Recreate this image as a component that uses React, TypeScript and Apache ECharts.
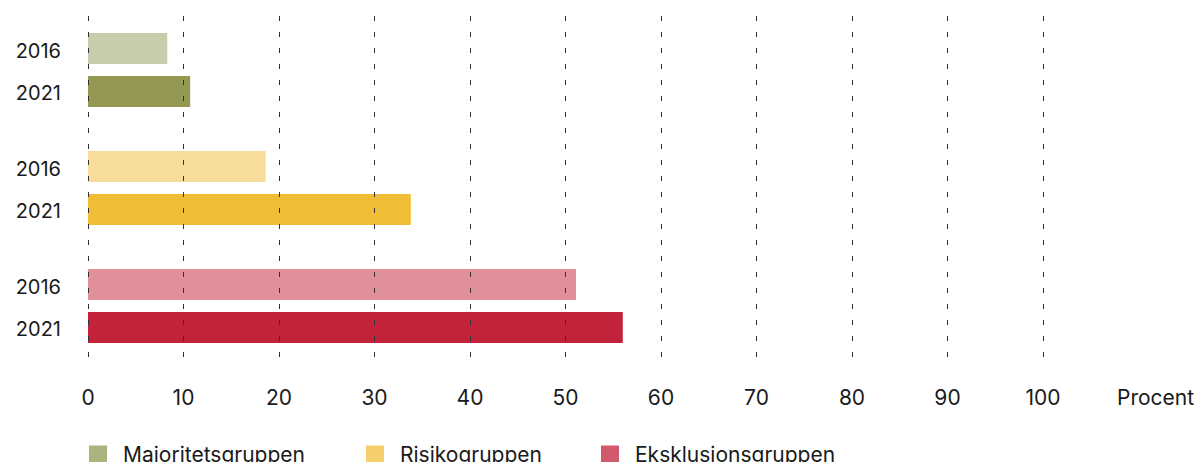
import React, { useEffect, useRef } from "react";
import * as echarts from "echarts";

const groups = ["Majoritetsgruppen", "Risikogruppen", "Eksklusionsgruppen"];
const years = ["2016", "2021"];
const values2016 = [8.3, 18.6, 51.1];
const values2021 = [10.7, 33.8, 56.0];
const colors2016 = ["#c8cdab", "#f6dd9b", "#e1909c"];
const colors2021 = ["#939953", "#f0bd37", "#c3223b"];
const legendColors = ["#abb37e", "#f4cf6b", "#d15a6d"];
const xTicks = [0, 10, 20, 30, 40, 50, 60, 70, 80, 90, 100];
const xName = "Procent";

export default function App() {
  const ref = useRef<HTMLDivElement>(null);
  useEffect(() => {
    if (!ref.current) return;
    const chart = echarts.init(ref.current, undefined, { renderer: "svg" });
    const textColor = "#1a1a1a";
    const barSeries = [values2016, values2021].map((vals, si) => ({
      type: "bar",
      name: years[si],
      barWidth: 31,
      barGap: "38.7%",
      data: vals.map((v, i) => ({
        value: v,
        itemStyle: { color: (si === 0 ? colors2016 : colors2021)[i] },
      })),
      label: {
        show: true,
        position: "left",
        distance: 27,
        offset: [0, 2],
        formatter: () => years[si],
        color: textColor,
        fontSize: 20,
        fontFamily: "Inter",
      },
      z: 2,
    }));
    const legendSeries = groups.map((g, i) => ({
      type: "line",
      name: g,
      data: [],
      itemStyle: { color: legendColors[i] },
      lineStyle: { color: legendColors[i] },
    }));
    const legendLefts = [89, 366, 601];
    chart.setOption({
      animation: false,
      textStyle: { fontFamily: "Inter" },
      grid: { left: 88, right: 157, top: 11, bottom: 97, containLabel: false },
      xAxis: {
        type: "value",
        min: 0,
        max: xTicks[xTicks.length - 1],
        interval: 10,
        z: 5,
        axisLine: { show: false },
        axisTick: { show: false },
        axisLabel: { color: textColor, fontSize: 21, margin: 22 },
        splitLine: {
          show: true,
          lineStyle: { color: "#333333", width: 1, type: [5, 11], dashOffset: 11 },
        },
        name: xName,
        nameLocation: "end",
        nameGap: 74,
        nameTextStyle: {
          color: textColor,
          fontSize: 21,
          align: "left",
          verticalAlign: "top",
          padding: [22, 0, 0, 0],
        },
      },
      yAxis: {
        type: "category",
        data: groups,
        inverse: true,
        axisLine: { show: false },
        axisTick: { show: false },
        axisLabel: { show: false },
        splitLine: { show: false },
      },
      legend: groups.map((g, i) => ({
        data: [{ name: g, icon: "rect" }],
        left: legendLefts[i],
        top: 444,
        padding: 0,
        itemWidth: 18,
        itemHeight: 18,
        selectedMode: false,
        textStyle: { color: textColor, fontSize: 21, padding: [0, 0, 0, 11] },
      })),
      series: [...barSeries, ...legendSeries],
    });
    return () => chart.dispose();
  }, []);
  return (
    <div
      ref={ref}
      style={{ position: "absolute", left: 0, top: 0, width: 1200, height: 462 }}
    />
  );
}
